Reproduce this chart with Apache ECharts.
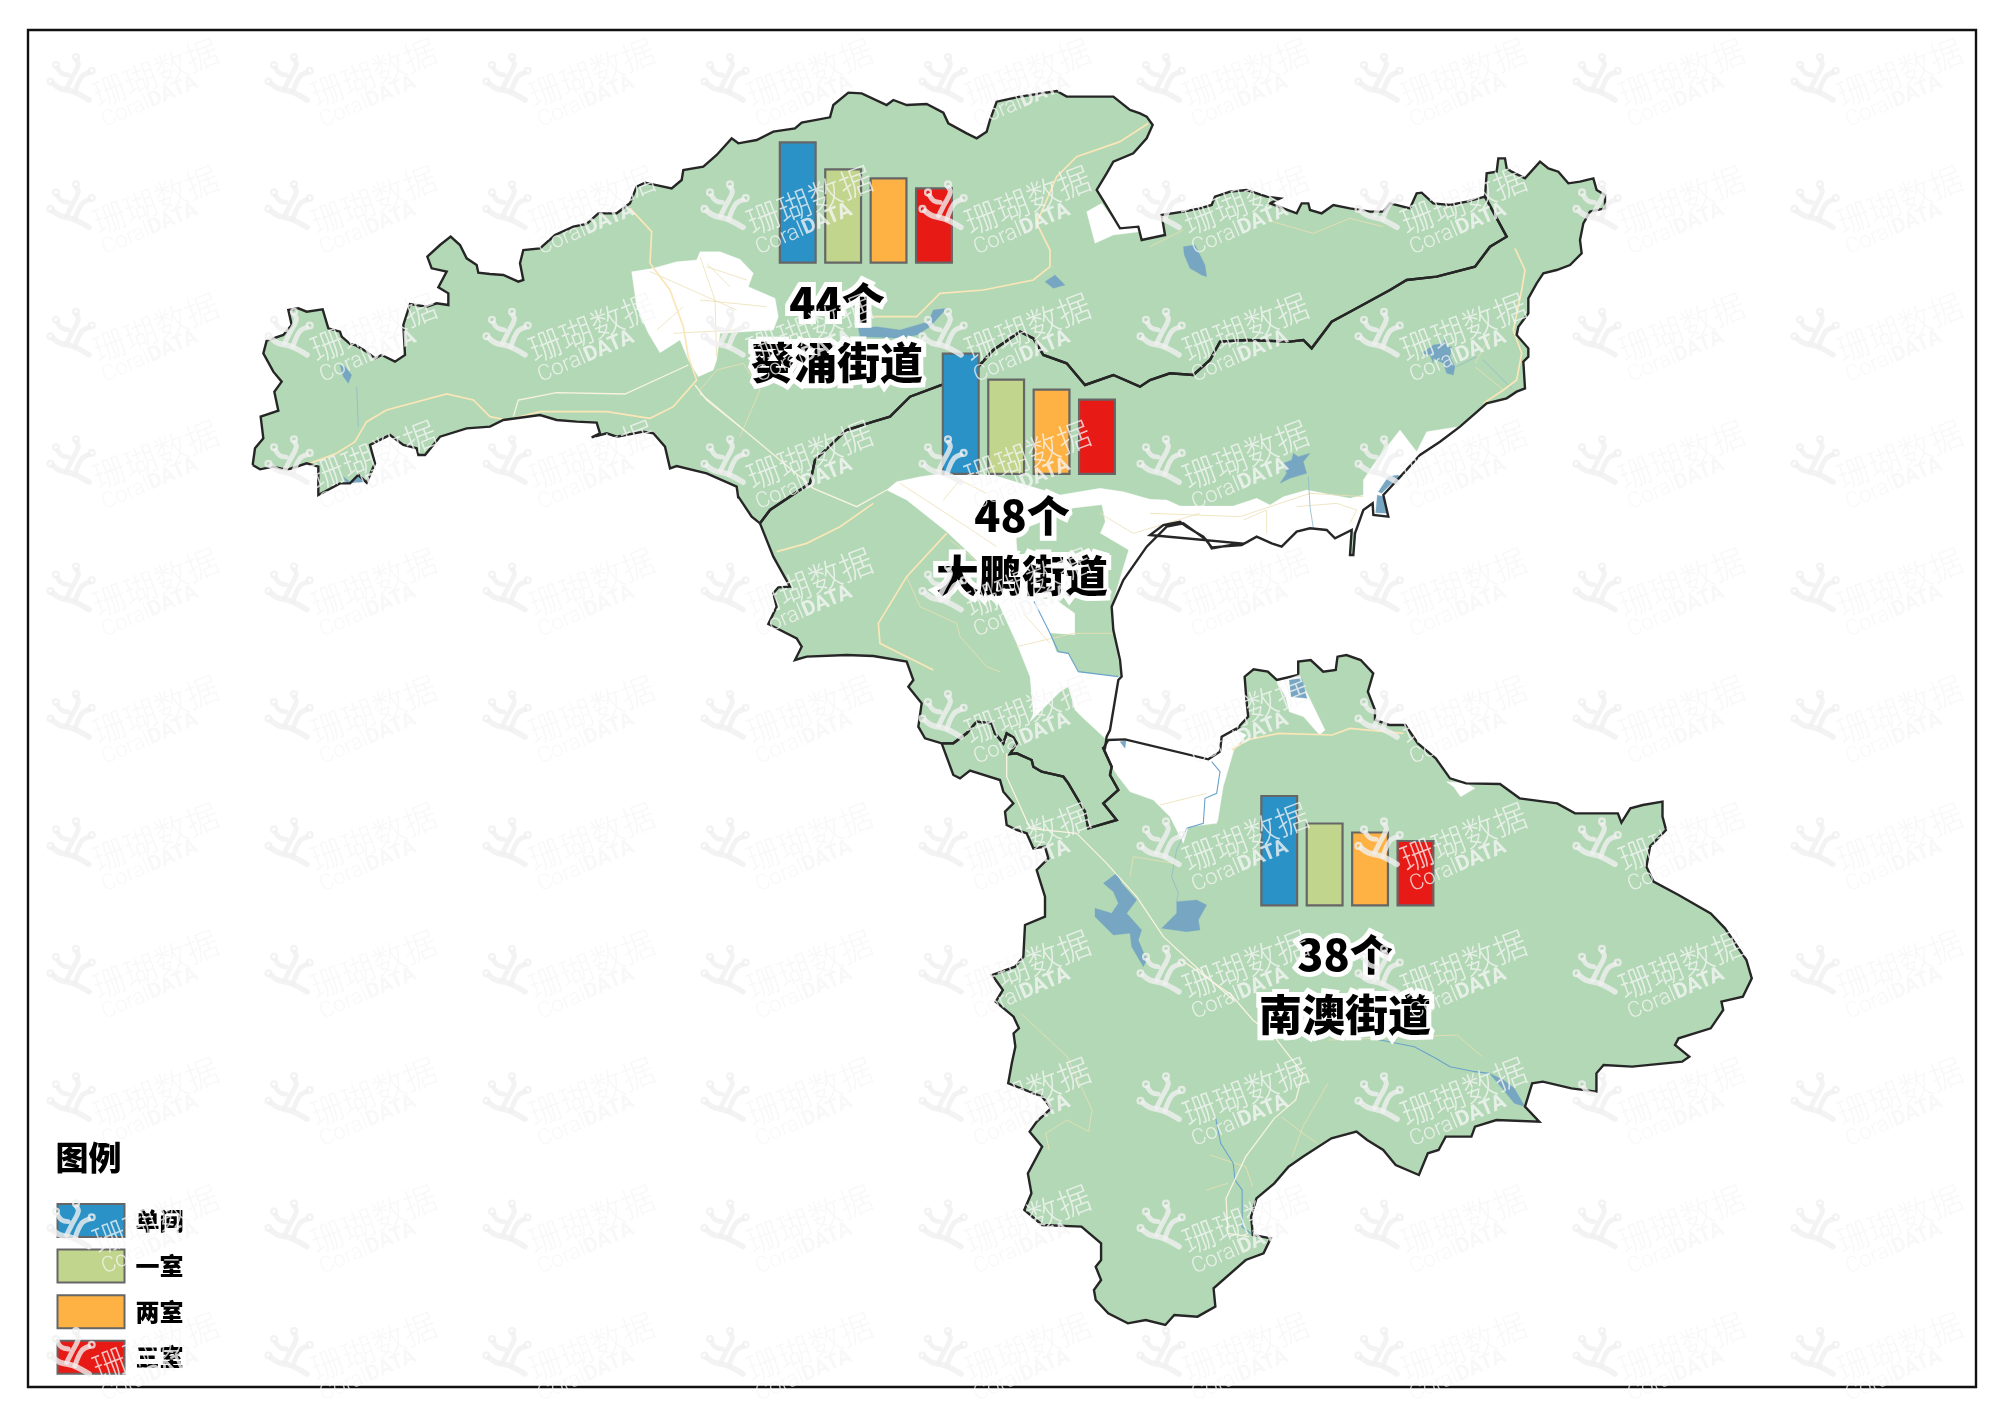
<!DOCTYPE html>
<html><head><meta charset="utf-8">
<style>html,body{margin:0;padding:0;background:#fff}#c{width:2000px;height:1414px}</style>
<script src="https://cdn.jsdelivr.net/npm/echarts@6/dist/echarts.min.js"></script>
</head><body><div id="c"></div>
<script>
/* ---- chart values ---- */
const roomTypes = ['单间','一室','两室','三室'];
const roomColors = ['#2a92c7','#c2d58d','#fdb243','#e81a15'];
const districts = ['葵涌街道','大鹏街道','南澳街道'];
const districtTotals = [44,48,38];
// relative bar heights (no printed scale)
const kuiyongBars = [122.5,95.5,86.5,76.5];
const dapengBars  = [122.5,96.5,86.5,76.5];
const nanaoBars   = [111.5,84,75,66.5];

/* ---- map geometry ---- */
const S1=[700,100,3,3],S4=[240,200,3,3],S5=[1150,140,3,3],S6=[740,500,3,3],S7=[1200,640,2.8,3],S8=[960,960,2.8,3],S9=[620,80,3,3];
const seg=(s,p)=>p.map(q=>[s[0]+q[0]/s[2],-(s[1]+q[1]/s[3])]);
const northWest=[...seg(S4,[[38,795],[45,745],[70,715],[62,650],[115,632],[103,575],[125,545],[100,515],[70,460],[80,422],[130,405],[155,375],[145,330],[175,325],[200,335],[248,328],[265,385],[300,395],[305,410],[330,432],[345,435],[380,455],[405,475],[425,465],[465,485],[495,465],[490,375],[510,312],[560,320],[590,310],[625,315],[625,280],[595,262],[620,215],[575,205],[562,170],[600,135],[632,110],[660,135],[680,175],[710,195],[715,218],[750,222],[790,225],[835,245],[850,240],[840,190],[850,150],[900,145],[945,105],[1000,80],[1040,72],[1075,40],[1130,40],[1170,10]]),
 ...seg(S9,[[50,320],[75,308],[155,325],[185,300],[190,270],[250,260],[290,225],[335,175],[355,190],[410,180],[460,155],[525,145],[545,128],[630,112],[640,75],[685,38],[725,40],[800,75],[820,60],[860,75],[920,72],[970,98],[985,130],[1040,160],[1070,175],[1100,155],[1110,120],[1130,65],[1200,50],[1310,33],[1340,50],[1480,50],[1530,90],[1560,100]]),
 ...seg(S1,[[1340,50],[1358,75],[1340,115],[1300,160],[1240,185],[1220,220],[1190,270],[1215,310],[1260,385],[1315,380],[1325,420],[1395,405],[1385,345]]),
 ...seg(S5,[[100,215],[150,205],[185,195],[195,170],[240,155],[290,150],[350,170],[390,175],[360,190],[400,205],[440,220],[455,190],[475,190],[480,210],[515,220],[550,195],[600,205],[660,215],[700,215],[720,190],[780,205],[800,160],[815,158],[850,190],[900,195],[950,185],[1005,170]])];
const borderKD=[...seg(S1,[[180,1270],[210,1230],[330,1150],[345,1080],[440,990],[520,965],[570,950],[630,890],[725,855],[835,800],[880,750],[960,695],[1000,715],[1030,765],[1100,790],[1155,855],[1240,825],[1320,860]]),
 ...seg(S5,[[0,720],[60,700],[130,705],[180,660],[210,605],[290,600],[420,605],[460,600],[485,625],[545,545],[610,510],[720,450],[770,420],[860,410],[975,380],[1020,320],[1070,290],[1005,170]])];
const eastCoast=[...seg(S5,[[1010,100],[1040,95],[1045,55],[1065,55],[1070,85],[1085,95],[1125,115],[1170,65],[1195,85],[1225,95],[1255,130],[1290,125],[1330,115],[1340,150],[1365,165],[1365,205],[1320,215],[1300,250],[1290,300],[1295,340],[1260,375],[1220,390],[1180,400],[1160,430],[1135,475],[1135,520],[1105,560],[1100,585],[1135,625],[1135,650],[1120,665],[1125,745],[1100,755],[1070,775],[1010,790],[930,860],[870,905],[810,945],[760,1000],[700,1065],[715,1130],[670,1125],[668,1090],[640,1110],[615,1180],[610,1245],[600,1245],[605,1170],[555,1195],[530,1170],[480,1165],[440,1175],[395,1220],[365,1210],[320,1190],[275,1215],[185,1222],[160,1190],[110,1160],[90,1145],[40,1155],[0,1185]]),
 ...seg(S6,[[1500,130],[1415,145],[1400,120],[1330,70],[1280,80],[1220,140],[1150,240],[1115,320],[1120,390],[1140,480],[1145,530],[1135,540],[1110,690],[1100,710],[1095,745]])];
const southWest=[...seg(S4,[[38,795],[60,808],[100,800],[140,810],[200,790],[235,800],[235,885],[300,850],[330,850],[355,825],[380,848],[405,790],[390,735],[450,705],[490,735],[510,740],[530,745],[535,765],[555,765],[600,710],[680,685],[750,680],[790,660],[900,645],[950,660],[1010,665],[1070,668],[1080,700],[1055,712],[1100,700],[1130,710],[1210,695],[1240,700],[1275,740],[1290,805],[1310,798],[1400,820],[1490,860],[1495,895]]),
 ...seg(S1,[[115,1190],[155,1250],[180,1270]])];
const dapengWest=seg(S6,[[60,70],[100,170],[150,260],[115,262],[100,280],[110,320],[85,372],[170,415],[185,440],[165,480],[200,470],[320,465],[400,468],[500,485],[520,540],[505,560],[545,610],[535,680],[555,715],[605,730]]);
const borderDN=seg(S6,[[605,730],[640,730],[680,700],[710,665],[755,670],[765,700],[790,730],[800,700],[820,712],[830,730],[810,762],[830,760],[875,780],[880,800],[905,815],[970,830],[985,850],[1035,935],[1045,985],[1130,960],[1090,910],[1135,870],[1110,825],[1115,800],[1090,745]]);
const nanaoOuter=[...seg(S6,[[1105,720],[1155,718],[1405,778],[1440,755],[1445,710],[1500,680]]),
 ...seg(S7,[[100,270],[135,230],[130,180],[125,110],[150,88],[190,95],[215,120],[275,105],[275,65],[310,60],[345,95],[380,90],[385,50],[410,45],[450,60],[485,100],[470,155],[490,210],[490,240],[530,255],[575,255],[610,310],[660,355],[700,415],[745,430],[840,432],[895,475],[1000,490],[1050,520],[1170,520],[1180,548],[1205,505],[1240,495],[1295,485],[1295,530],[1305,570],[1260,620],[1250,680],[1270,725],[1340,765],[1430,820],[1470,865],[1530,960],[1545,1015],[1520,1070],[1460,1085],[1465,1110],[1430,1165],[1340,1195],[1330,1215],[1370,1250],[1350,1265],[1210,1280],[1130,1275],[1110,1300],[1110,1355],[1040,1345],[960,1325],[930,1330],[910,1400],[950,1445],[830,1440],[770,1460],[760,1490]]),
 ...seg(S8,[[1360,530],[1340,570],[1310,580],[1285,645],[1220,615],[1185,570],[1140,540],[1110,515],[1040,535],[960,590],[920,620],[880,670],[830,715],[815,770],[820,825],[870,835],[850,880],[800,900],[710,985],[715,1040],[665,1070],[600,1065],[575,1095],[520,1080],[470,1090],[415,1060],[380,1020],[375,990],[395,960],[380,920],[395,900],[395,850],[340,800],[230,795],[180,750],[200,700],[190,640],[230,560],[195,515],[215,485],[255,445],[230,410],[135,370],[145,310],[155,260],[150,220],[165,205],[150,170],[100,125],[120,90],[90,45]]),
 ...seg(S6,[[825,1400],[850,1370],[855,1275],[915,1250],[915,1190],[890,1110],[925,1075],[915,1040],[880,1045],[860,1000],[830,990],[800,975],[795,935],[820,910],[790,875],[780,840],[690,812],[660,835],[640,825],[605,730]])];
const kuiyongRing=[...northWest,...[...borderKD].reverse().slice(1),...[...southWest].reverse().slice(1)];
const dapengRing=[...borderKD,...eastCoast,...[...borderDN].reverse(),...[...dapengWest].reverse()];
const nanaoRing=[...borderDN,...nanaoOuter];

const whiteTown=[...seg(S4,[[1175,215],[1240,205],[1310,185],[1370,180],[1380,155],[1440,155],[1500,178]]),...seg(S1,[[120,480],[160,520],[145,560],[225,595],[235,650],[220,690],[60,700],[50,780]]),...seg(S4,[[1425,495],[1420,510],[1375,530],[1345,480],[1320,420],[1260,458],[1225,400],[1190,320]])];
const whiteStrip=[...seg(S1,[[560,1170],[590,1145],[660,1130],[730,1120],[880,1125],[960,1150],[1080,1185],[1200,1165],[1270,1175]]),...seg(S5,[[0,1078],[50,1080],[90,1098],[250,1098],[320,1075],[360,1095],[400,1070],[470,1050],[600,1075],[640,1065],[640,1020],[680,960],[750,870],[800,935],[830,875],[925,860],[1020,790],[930,860],[870,905],[810,945],[760,1000],[700,1065],[715,1130],[670,1125],[668,1090],[640,1110],[615,1180],[605,1170],[555,1195],[530,1170],[480,1165],[440,1175],[395,1220],[365,1210],[320,1190],[275,1215],[185,1222],[160,1190],[110,1160],[90,1145],[40,1155],[0,1185]]),...seg(S6,[[1500,130],[1415,145],[1400,120],[1330,70],[1280,80],[1220,140],[1150,240],[1115,320],[1120,390],[1140,480],[1145,530],[1135,540],[1110,690],[1095,715],[1030,655],[1005,630],[985,560],[960,575],[870,665],[880,640],[870,530],[830,430],[780,320],[720,190],[620,95],[500,0]])];
const greenBlock=seg(S6,[[830,125],[830,95],[920,60],[1000,25],[1085,15],[1095,65],[1080,100],[1165,150],[1120,300],[1115,335],[1125,430],[1145,530],[1015,515],[985,460],[950,455],[930,400],[1005,405],[1005,340],[950,300],[880,290],[840,260]]);
const whiteSouth=[...seg(S6,[[1095,745],[1105,720],[1155,718],[1405,778],[1440,755],[1445,710],[1500,680]]),...seg(S7,[[100,270],[130,285],[95,330],[65,440],[50,540]]),...seg(S6,[[1430,970],[1345,980],[1330,1030],[1290,950],[1240,900],[1170,875],[1135,830],[1115,800]])];
const whitePond=seg(S7,[[215,125],[275,105],[300,160],[350,270],[335,285],[290,230],[250,215],[240,170]]);
const whiteSpot=seg(S7,[[690,425],[745,430],[770,445],[730,470],[710,440]]);
const whiteNotch=seg(S1,[[1160,335],[1205,310],[1260,385],[1315,380],[1320,395],[1240,405],[1185,430]]);
const whites=[whiteTown,whiteStrip,whiteSouth,whitePond,whiteSpot,whiteNotch];

const lakes=[
 seg(S5,[[100,320],[135,315],[165,375],[170,410],[155,405],[120,385],[103,345]]),
 seg(S5,[[815,640],[850,615],[880,610],[885,595],[890,620],[905,620],[900,650],[915,680],[910,705],[890,700],[880,670],[850,655],[850,670],[840,645]]),
 seg(S5,[[400,970],[425,960],[430,940],[445,950],[480,940],[460,965],[470,1000],[420,1015],[390,1030],[410,1000]]),
 seg(S5,[[685,1055],[715,1010],[745,1005],[748,1010],[720,1035],[695,1060]]),
 seg(S5,[[682,1065],[700,1070],[712,1120],[677,1118]]),
 seg(S1,[[475,685],[530,680],[600,690],[685,665],[700,630],[740,625],[690,680],[650,705],[600,715],[540,712],[480,710]]),
 seg(S1,[[1035,545],[1065,525],[1095,555],[1060,565]]),
 seg(S4,[[300,495],[315,500],[335,525],[325,550],[310,530]]),
 seg(S4,[[310,830],[330,845],[355,820],[380,845],[320,850]]),
 seg(S6,[[1130,1120],[1145,1150],[1190,1200],[1160,1240],[1205,1290],[1195,1320],[1220,1380],[1210,1400],[1175,1340],[1170,1300],[1120,1305],[1065,1250],[1065,1225],[1115,1240],[1135,1210],[1120,1175],[1090,1150]]),
 seg(S6,[[1310,1205],[1370,1200],[1400,1215],[1375,1260],[1380,1290],[1340,1295],[1265,1285],[1310,1240]]),
 seg(S6,[[1140,725],[1158,722],[1155,745]]),
 seg(S7,[[810,1300],[850,1320],[880,1345],[910,1400],[880,1390],[850,1350]]),
 seg(S7,[[250,120],[285,115],[300,175],[255,170]])
];
const rivers=[
 seg(S6,[[880,300],[930,400],[955,455],[985,460],[1015,515],[1135,530]]),
 seg(S6,[[1415,785],[1440,815],[1430,880],[1395,895],[1390,970],[1340,985]]),
 seg(S7,[[480,1195],[600,1220],[660,1255],[700,1280],[770,1295],[810,1300]]),
 seg(S8,[[715,470],[730,550],[765,610],[770,660],[790,690],[790,800],[820,825]])
];
const faintRivers=[
 seg(S6,[[1340,985],[1310,1050],[1295,1130],[1315,1180],[1310,1205]]),
 seg(S5,[[475,1010],[480,1100],[490,1165]]),
 seg(S5,[[920,680],[980,650]]),
 seg(S5,[[1000,660],[1085,745]]),
 seg(S4,[[350,560],[355,680]])
];
const mainRoads=[
 seg(S1,[[1345,70],[1260,125],[1130,170],[1070,230],[1010,370],[1050,450],[1050,500],[1000,540],[850,570],[720,580],[650,650],[520,650]]),
 seg(S4,[[1170,25],[1235,95],[1230,190],[1290,270],[1330,380],[1345,470],[1370,540],[1300,620],[1230,655],[1100,635],[900,635],[800,660],[750,650],[700,600],[620,582],[440,630],[380,665],[345,725],[290,760],[210,790]]),
 seg(S6,[[110,155],[200,130],[300,80],[400,10]]),
 seg(S7,[[90,330],[130,300],[220,280],[370,285],[420,265],[570,280]]),
 seg(S5,[[1095,325],[1125,390],[1115,450],[1090,570],[1115,640],[1100,720],[1060,750],[1000,790]]),
 seg(S6,[[620,100],[500,230],[415,370],[420,430],[500,470],[580,510]])
];
const whiteRoads=[
 seg(S4,[[820,650],[835,600],[950,578],[1155,582],[1345,495]]),
 seg(S4,[[1365,555],[1400,600],[1500,680]]),
 seg(S1,[[0,880],[300,1130],[340,1165],[470,1220],[560,1170]]),
 seg(S6,[[800,760],[800,830],[870,985],[1010,1000],[1100,1090],[1190,1190],[1270,1310],[1400,1430],[1480,1500]]),
 seg(S8,[[620,0],[760,105],[820,180],[880,230],[960,340],[940,420],[880,475],[800,590],[745,715],[750,820],[810,830]])
];
const thinRoads=[
 seg(S1,[[0,870],[50,810],[130,790],[180,870],[120,1010]]),
 seg(S6,[[500,230],[540,320],[650,370],[660,410],[740,500],[780,515]]),
 seg(S5,[[975,680],[1060,750]]),seg(S5,[[975,670],[1020,590]]),
 seg(S5,[[0,320],[100,270]]),seg(S5,[[350,240],[490,280],[600,235],[700,260]]),
 seg(S5,[[0,1120],[270,1130],[480,1060],[640,1070]]),seg(S5,[[280,1140],[350,1110],[350,1180]]),seg(S5,[[440,1100],[560,1090],[620,1110],[600,1150]]),
 seg(S4,[[1380,170],[1425,300],[1430,470]]),seg(S4,[[1230,215],[1490,330]]),seg(S4,[[1250,390],[1330,320]]),seg(S4,[[1300,400],[1490,390]]),seg(S4,[[1400,190],[1470,260]]),
 seg(S1,[[20,500],[140,540]]),seg(S1,[[0,600],[200,620]]),
 seg(S1,[[600,1150],[800,1280],[890,1340]]),seg(S1,[[730,1200],[780,1140],[860,1180]]),seg(S1,[[1200,1240],[1300,1300],[1500,1240]]),
 seg(S6,[[830,440],[1000,400],[1120,400]]),seg(S6,[[850,340],[930,430]]),seg(S6,[[630,120],[780,240]]),
 seg(S6,[[1260,915],[1400,880]]),seg(S6,[[1180,1070],[1170,1130]]),seg(S6,[[1180,1070],[1300,1090]]),
 seg(S8,[[900,470],[960,520],[1000,550]]),seg(S8,[[1030,370],[960,500],[930,590]]),seg(S8,[[700,585],[800,620],[820,680]]),seg(S8,[[690,690],[750,670]]),
 seg(S8,[[170,160],[300,290],[370,450],[360,515],[300,480],[240,520],[250,570]]),
 seg(S7,[[360,1200],[720,1185],[790,1250]])
];

const toFeature=(name,ring)=>({type:'Feature',properties:{name},geometry:{type:'Polygon',coordinates:[[...ring,ring[0]]]}});
const GREEN='#b3d8b5',LAKE='#76a6c2';
const features=[toFeature(districts[0],kuiyongRing),toFeature(districts[1],dapengRing),toFeature(districts[2],nanaoRing)];
whites.forEach((r,i)=>features.push(toFeature('white'+i,r)));
features.push(toFeature('block',greenBlock));
lakes.forEach((r,i)=>features.push(toFeature('lake'+i,r)));
echarts.registerMap('area',{type:'FeatureCollection',features});
const regionStyles=features.map(f=>{const n=f.properties.name;
 const c=n.startsWith('white')?'#fff':n.startsWith('lake')?LAKE:GREEN;
 return {name:n,itemStyle:{areaColor:c,borderColor:c,borderWidth:0.3},emphasis:{disabled:true}};});

/* ---- watermark tiles ---- */
const wmColor='rgba(240,240,240,0.8)';
const wmText='rgba(246,246,246,0.78)';
function tile(ox,oy){
 const line=(pts,w)=>({type:'polyline',z:100,silent:true,shape:{points:pts.map(p=>[ox+p[0],oy+p[1]]),smooth:0.4},style:{stroke:wmColor,fill:null,lineWidth:w,lineCap:'round',lineJoin:'round'}});
 const dot=(x,y)=>({type:'circle',z:100,silent:true,shape:{cx:ox+x,cy:oy+y,r:2.9},style:{fill:'none',stroke:wmColor,lineWidth:2.3}});
 return [
  line([[53,83.5],[60,88.3],[73.3,91.7],[89,100]],5.6),
  line([[76.5,60],[78.3,65],[71.7,78.3],[66.7,88.3]],5),
  line([[89,72.5],[81.7,76.7],[75,91.7]],5),
  line([[57.5,68],[61.7,73.3],[68.3,75]],4.8),
  dot(50.5,81.5),dot(76,57),dot(91.7,70.7),dot(56,65),
  {type:'text',z:100,silent:true,x:ox+155.5,y:oy+72.5,rotation:21*Math.PI/180,style:{text:'珊瑚数据',fill:wmText,fontFamily:'"Noto Sans CJK SC"',fontWeight:300,fontSize:33,textAlign:'center',textVerticalAlign:'middle'}},
  {type:'text',z:100,silent:true,x:ox+150,y:oy+102,rotation:23*Math.PI/180,style:{text:'{a|Coral}{b|DATA}',fill:wmText,textAlign:'center',textVerticalAlign:'middle',rich:{a:{fontFamily:'Roboto',fontWeight:300,fontSize:22,fill:wmText,color:wmText},b:{fontFamily:'Roboto',fontWeight:'bold',fontSize:21,fill:wmText,color:wmText}}}}
 ];
}
const watermark=[];
for(let r=0;r<11;r++)for(let c=0;c<9;c++)watermark.push(...tile(c*218,r*127.4));

/* ---- grids for the small bar charts ---- */
const barGrids=[{left:775,top:138.7,width:181.7,height:125},{left:938,top:350,width:181.7,height:125},{left:1256.5,top:781.4,width:181.7,height:125}];
const barSets=[kuiyongBars,dapengBars,nanaoBars];
const barSeries=[];
barSets.forEach((vals,g)=>vals.forEach((v,i)=>barSeries.push({
 type:'bar',name:roomTypes[i],xAxisIndex:g,yAxisIndex:g,data:[v],barWidth:38,barGap:'19.5%',z:5,silent:true,
 itemStyle:{color:roomColors[i],borderColor:'#666',borderWidth:2.2}
})));
const CJK='"Noto Sans CJK SC"';
const lineItem=(coords,color,width)=>({coords,lineStyle:{color,width,opacity:1,curveness:0}});
const chart=echarts.init(document.getElementById('c'),null,{renderer:'canvas'});
chart.setOption({
 animation:false,backgroundColor:'#fff',
 title:{text:'图例',left:55.5,top:1141,padding:0,textStyle:{fontFamily:CJK,fontWeight:900,fontSize:33,color:'#000'}},
 legend:{orient:'vertical',left:56.5,top:1203,padding:0,itemWidth:67,itemHeight:33,itemGap:10.6,selectedMode:false,icon:'rect',data:roomTypes,
  textStyle:{fontFamily:CJK,fontWeight:900,fontSize:24,color:'#000',padding:[0,0,0,6]}},
 geo:{map:'area',left:0,top:0,right:0,bottom:0,aspectScale:1,boundingCoords:[[0,0],[2000,-1414]],roam:false,silent:true,z:1,
  itemStyle:{areaColor:GREEN,borderColor:GREEN,borderWidth:0.3},label:{show:false},regions:regionStyles,emphasis:{disabled:true}},
 grid:barGrids,
 xAxis:barGrids.map((_,i)=>({type:'category',gridIndex:i,data:[districts[i]],show:false})),
 yAxis:barGrids.map((_,i)=>({type:'value',gridIndex:i,min:0,max:125,show:false})),
 series:[
  {type:'lines',coordinateSystem:'geo',polyline:true,z:2,silent:true,data:[
    ...thinRoads.map(c=>lineItem(c,'#ecdfb4',0.8)),
    ...faintRivers.map(c=>lineItem(c,'#8fb9c9',0.8)),
    ...rivers.map(c=>lineItem(c,'#6aa3cc',1.1)),
    ...mainRoads.map(c=>lineItem(c,'#fbe6b8',1.7)),
    ...whiteRoads.map(c=>lineItem(c,'#f8f3e0',1.3))]},
  {type:'lines',coordinateSystem:'geo',polyline:true,z:3,silent:true,
   data:[kuiyongRing,dapengRing,nanaoRing].map(r=>lineItem([...r,r[0]],'#262626',2.4))},
  ...barSeries,
  {type:'scatter',coordinateSystem:'geo',z:6,silent:true,symbolSize:1,itemStyle:{color:'transparent',opacity:1},
   data:[{name:districts[0],value:[837,-333,districtTotals[0]]},{name:districts[1],value:[1022,-546,districtTotals[1]]},{name:districts[2],value:[1345,-985,districtTotals[2]]}],
   label:{show:true,opacity:1,position:'inside',formatter:p=>p.value[2]+'个\n'+p.name,fontFamily:CJK,fontWeight:900,fontSize:43,lineHeight:60,color:'#000',textBorderColor:'#fff',textBorderWidth:10,align:'center',verticalAlign:'middle'}}
 ],
 graphic:{elements:[
  {type:'rect',z:0,silent:true,shape:{x:28,y:30,width:1948,height:1357},style:{fill:'none',stroke:'#111',lineWidth:2.4}},
  ...watermark]}
});
</script></body></html>
